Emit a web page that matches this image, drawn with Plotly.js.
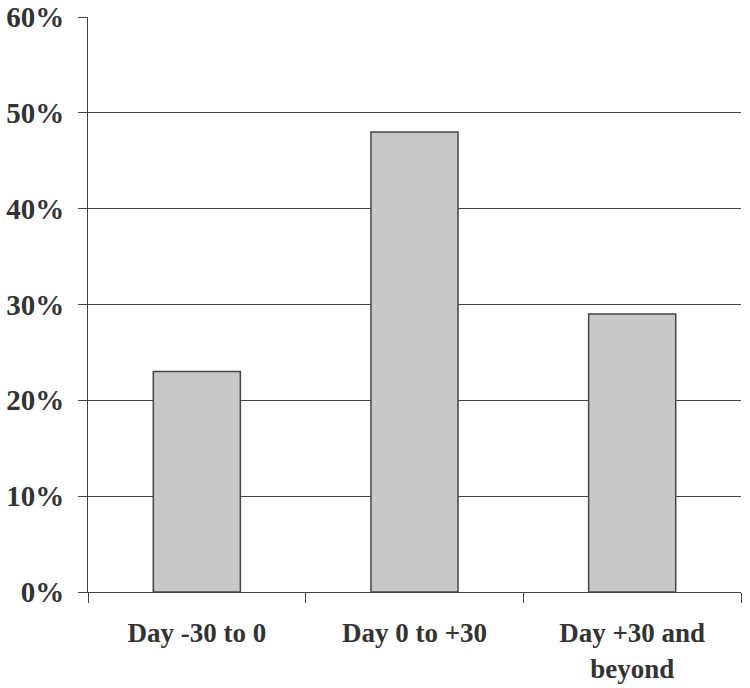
<!DOCTYPE html>
<html>
<head>
<meta charset="utf-8">
<script src="https://cdn.plot.ly/plotly-3.0.1.min.js"></script>
<style>
  html, body { margin: 0; padding: 0; background: #fff; }
  #chart { width: 750px; height: 688px; }
</style>
</head>
<body>
<div id="chart"></div>
<script>
// categorias e valores
const categories = ["Day -30 to 0", "Day 0 to +30", "Day +30 and<br>beyond"];
const shares = [0.23, 0.48, 0.29];
const yTicks = [0, 0.1, 0.2, 0.3, 0.4, 0.5, 0.6];

const ink = "#333333";
const serif = "'Liberation Serif', 'Times New Roman', serif";

const trace = {
  x: categories,
  y: shares,
  type: "bar",
  marker: {
    color: "#c8c8c8",
    line: { color: "#444444", width: 1.5 },
  },
  hoverinfo: "none",
};

const layout = {
  width: 750,
  height: 688,
  margin: { l: 88, r: 9, t: 17, b: 96 },
  paper_bgcolor: "#ffffff",
  plot_bgcolor: "#ffffff",
  showlegend: false,
  bargap: 0.6,
  font: { family: serif, color: ink },
  xaxis: {
    type: "category",
    tickson: "boundaries",
    ticks: "outside",
    ticklen: 10,
    tickcolor: "#444444",
    tickwidth: 1,
    showline: true,
    linecolor: "#444444",
    linewidth: 1,
    showgrid: false,
    ticklabelstandoff: 17,
    tickfont: { family: serif, size: 27, color: ink, weight: "bold" },
  },
  yaxis: {
    range: [0, 0.6],
    tickvals: yTicks,
    tickformat: ".0%",
    ticks: "outside",
    ticklen: 9,
    tickcolor: "#444444",
    showline: true,
    linecolor: "#444444",
    linewidth: 1,
    showgrid: true,
    gridcolor: "#444444",
    gridwidth: 1,
    zeroline: false,
    ticklabelstandoff: 8,
    tickfont: { family: serif, size: 29, color: ink, weight: "bold" },
  },
};

Plotly.newPlot("chart", [trace], layout, { staticPlot: true });
</script>
</body>
</html>
